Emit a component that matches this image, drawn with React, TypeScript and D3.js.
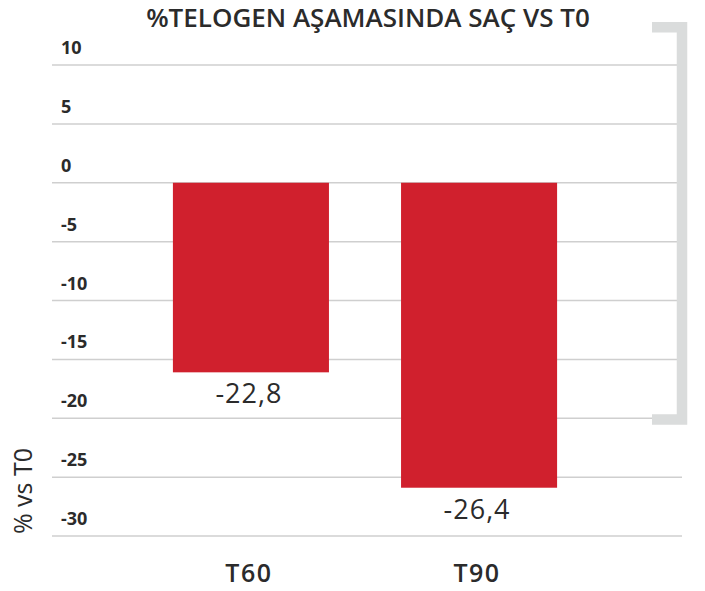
import React from 'react'
import * as d3 from 'd3'

const categories = ['T60', 'T90']
const barValues = [-16.1, -25.9]
const valueLabels = ['-22,8', '-26,4']
const yTicks = [10, 5, 0, -5, -10, -15, -20, -25, -30]
const bracketRange = [-20.1, 13.2]

const title = '%TELOGEN AŞAMASINDA SAÇ VS T0'
const yTitle = '% vs T0'

const width = 705
const height = 591
const font = '"Open Sans", sans-serif'
const textColor = '#2b2b2b'

function App() {
  const x = d3.scaleBand<string>()
    .domain(categories)
    .range([52, 678])
    .paddingInner(0.316)
    .paddingOuter(0.53)

  const y = d3.scaleLinear().domain([-30, 10]).range([536, 65])

  const bracket = d3.line<[number, number]>()([
    [652, y(bracketRange[1])],
    [682, y(bracketRange[1])],
    [682, y(bracketRange[0])],
    [652, y(bracketRange[0])],
  ])

  return (
    <svg width={width} height={height} style={{ position: 'absolute', left: 0, top: 0 }}>
      <rect width={width} height={height} fill="#fff" />
      <text x={368} y={27} textAnchor="middle" fontFamily={font} fontWeight={600}
        fontSize={26} fill={textColor}>{title}</text>

      {yTicks.map(t => (
        <g key={t}>
          <line x1={52} x2={682} y1={y(t)} y2={y(t)} stroke="#cfcfcf" strokeWidth={1.5} />
          <text x={61} y={y(t) - 11} fontFamily={font} fontWeight={700} fontSize={18}
            fill={textColor}>{t}</text>
        </g>
      ))}

      <path d={bracket ?? ''} fill="none" stroke="#dadcdc" strokeWidth={10.5} />

      {categories.map((c, i) => {
        const v = barValues[i]
        const bx = x(c) ?? 0
        const cx = bx + x.bandwidth() / 2
        return (
          <g key={c}>
            <rect x={bx} y={y(0)} width={x.bandwidth()} height={y(v) - y(0)} fill="#d0202d" />
            <text x={cx - 2} y={y(v) + 31} textAnchor="middle" fontFamily={font} fontWeight={500}
              fontSize={27} letterSpacing={1} fill={textColor}>{valueLabels[i]}</text>
            <text x={cx - 2} y={582} textAnchor="middle" fontFamily={font} fontWeight={600}
              fontSize={25} letterSpacing={1.5} fill={textColor}>{c}</text>
          </g>
        )
      })}

      <text transform={`translate(32,491) rotate(-90)`} textAnchor="middle" fontFamily={font}
        fontWeight={500} fontSize={25} fill={textColor}>{yTitle}</text>
    </svg>
  )
}

export default App
